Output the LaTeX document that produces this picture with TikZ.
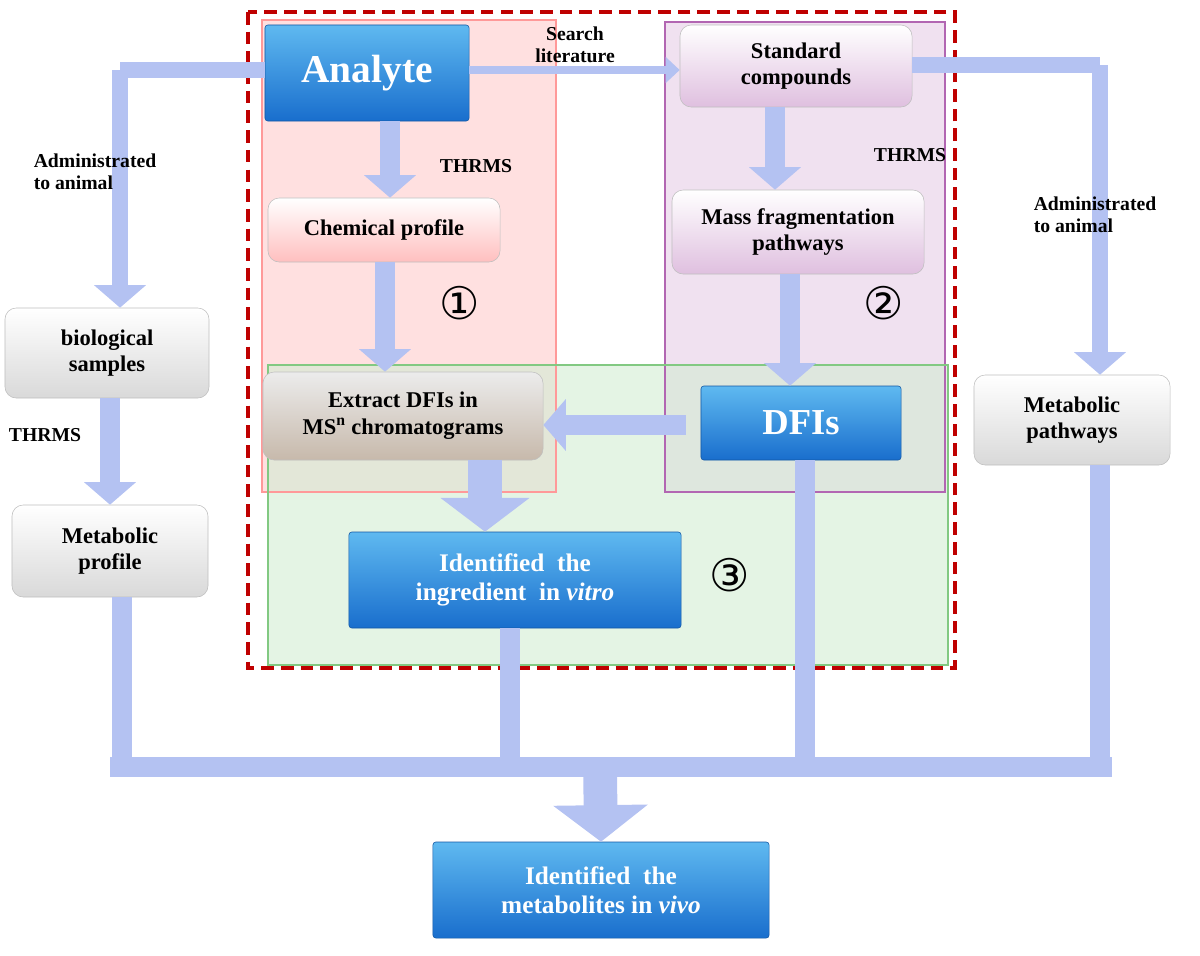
\documentclass[tikz,border=0pt]{standalone}
\usepackage{fontspec}
\setmainfont{Liberation Serif}
\newfontfamily\symfont{DejaVu Sans}
\usetikzlibrary{arrows.meta, positioning, calc}

\definecolor{flowc}{RGB}{180,194,242}
\definecolor{bluebot}{RGB}{25,110,205}
\definecolor{bluetop}{RGB}{95,185,240}

\tikzset{
    bluebox/.style={rounded corners=2pt, top color=bluetop, bottom color=bluebot, draw=bluebot!80!black, text=white, align=center, font=\bfseries\fontsize{18}{21}\selectfont},
    graybox/.style={rounded corners=8pt, top color=white, bottom color=gray!30, draw=gray!50, align=center, font=\bfseries\fontsize{16}{19}\selectfont},
    lbl/.style={font=\bfseries\fontsize{14}{16}\selectfont, align=left},
    flow/.style={draw=flowc, line width=#1, -{Triangle[length=16pt,width=36pt]}},
    flow/.default=14pt,
    bar/.style={draw=flowc, line width=#1},
    bar/.default=12pt
}

\begin{document}
\begin{tikzpicture}[x=0.025cm, y=-0.025cm]
    \useasboundingbox (0,0) rectangle (1200,955);

    % Region boxes
    \fill[red!20, opacity=0.6] (262,20) rectangle (556,492);
    \fill[violet!15, opacity=0.8] (665,22) rectangle (945,492);
    \fill[green!40!gray!25, opacity=0.6] (268,365) rectangle (948,665);
    \draw[red!40, thick] (262,20) rectangle (556,492);
    \draw[violet!60, thick] (665,22) rectangle (945,492);
    \draw[green!40!gray!70, thick] (268,365) rectangle (948,665);
    \draw[red!75!black, line width=2.5pt, dash pattern=on 9pt off 5pt] (248,12) rectangle (955,668);

    % Nodes
    \node[bluebox, font=\bfseries\fontsize{28}{32}\selectfont, minimum width=5.1cm, minimum height=2.4cm] (analyte) at (367,73) {Analyte};
    \node[graybox, bottom color=violet!25, minimum width=5.8cm, minimum height=2.05cm] (std) at (796,66) {Standard\\compounds};
    \node[graybox, bottom color=red!25, minimum width=5.8cm, minimum height=1.6cm] (chem) at (384,230) {Chemical profile};
    \node[graybox, bottom color=violet!25, minimum width=6.3cm, minimum height=2.1cm] (mass) at (798,232) {Mass fragmentation\\pathways};
    \node[graybox, top color=gray!15, bottom color=brown!40!gray!55, minimum width=7cm, minimum height=2.2cm] (extract) at (403,416) {Extract DFIs in\\MS\textsuperscript{n} chromatograms};
    \node[bluebox, font=\bfseries\fontsize{26}{30}\selectfont, minimum width=5cm, minimum height=1.85cm] (dfi) at (801,423) {DFIs};
    \node[bluebox, minimum width=8.3cm, minimum height=2.4cm] (ingr) at (515,580) {Identified\ \ the\\ingredient\ \ in \textit{vitro}};
    \node[graybox, minimum width=5.1cm, minimum height=2.25cm] (bio) at (107,353) {biological\\samples};
    \node[graybox, minimum width=4.9cm, minimum height=2.3cm] (mprof) at (110,551) {Metabolic\\profile};
    \node[graybox, minimum width=4.9cm, minimum height=2.25cm] (mpath) at (1072,420) {Metabolic\\pathways};
    \node[bluebox, minimum width=8.4cm, minimum height=2.4cm] (vivo) at (601,890) {Identified\ \ the\\metabolites in \textit{vivo}};

    % Circled labels
    \node[font=\symfont\fontsize{32}{32}\selectfont] (c1) at (460,303) {①};
    \node[font=\symfont\fontsize{32}{32}\selectfont] (c2) at (884,303) {②};
    \node[font=\symfont\fontsize{32}{32}\selectfont] (c3) at (730,575) {③};

    % Helper points
    \coordinate (lc) at (120,70);
    \coordinate (rc) at (1100,65);
    \coordinate (jn) at (600,767);

    % Flows
    \draw[bar=6pt, -{Triangle[length=10pt,width=18pt]}] (analyte.east |- 0,70) -- (std.west |- 0,70);
    \node[lbl, align=center] (search) at (575,45) {Search\\literature};
    \draw[bar] (analyte.west |- lc) -- (lc);
    \draw[flow=12pt] (lc) -- (bio.north -| lc);
    \node[lbl] (adm1) at (95,172) {Administrated\\to animal};
    \draw[bar] (std.east |- rc) -- (rc);
    \draw[flow=12pt] (rc) -- (mpath.north -| rc);
    \node[lbl] (adm2) at (1095,215) {Administrated\\to animal};

    \draw[flow] (analyte.south -| 390,0) -- (chem.north -| 390,0);
    \node[lbl] (t1) at (476,166) {THRMS};
    \draw[flow] (chem.south -| 385,0) -- (extract.north -| 385,0);
    \draw[flow] (std.south -| 775,0) -- (mass.north -| 775,0);
    \node[lbl] (t2) at (910,155) {THRMS};
    \draw[flow] (mass.south -| 790,0) -- (dfi.north -| 790,0);
    \draw[flow] (dfi.west |- 0,425) ++(-15,0) -- (extract.east |- 0,425);
    \draw[flow=24pt, -{Triangle[length=24pt,width=62pt]}] (extract.south -| 485,0) -- (ingr.north -| 485,0);
    \draw[flow] (bio.south -| 110,0) -- (mprof.north -| 110,0);
    \node[lbl] (t3) at (45,435) {THRMS};

    % Collection
    \draw[bar=14pt] (mprof.south -| 122,0) -- (122,767);
    \draw[bar=14pt] (ingr.south -| 510,0) -- (510,767);
    \draw[bar=14pt] (dfi.south -| 805,0) -- (805,767);
    \draw[bar=14pt] (mpath.south -| 1100,0) -- (1100,772);
    \draw[bar=14pt] (110,767) -- (1112,767);
    \draw[flow=24pt, -{Triangle[length=26pt,width=66pt]}] (jn) -- (vivo.north);
\end{tikzpicture}
\end{document}
